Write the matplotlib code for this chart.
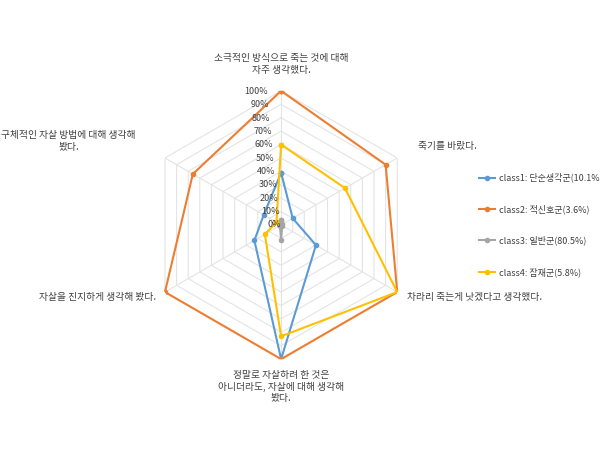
import matplotlib.pyplot as plt
import numpy as np

plt.rcParams['font.family'] = 'Noto Sans CJK KR'

categories = ['소극적인 방식으로 죽는 것에 대해\n자주 생각했다.', '죽기를 바랐다.',
              '차라리 죽는게 낫겠다고 생각했다.', '정말로 자살하려 한 것은\n아니더라도, 자살에 대해 생각해\n봤다.',
              '자살을 진지하게 생각해 봤다.', '구체적인 자살 방법에 대해 생각해\n봤다.']
class1 = [39, 10, 30, 100, 23, 15]
class2 = [100, 90, 100, 100, 100, 76]
class3 = [4, 1, 1, 11, 1, 1]
class4 = [60, 55, 100, 83, 14, 4]
labels = ['class1: 단순생각군(10.1%)', 'class2: 적신호군(3.6%)', 'class3: 일반군(80.5%)', 'class4: 잠재군(5.8%)']
colors = ['#5B9BD5', '#ED7D31', '#A5A5A5', '#FFC000']

fig = plt.figure(figsize=(6, 4.5), dpi=100)
ax = fig.add_axes([0.245, 0.202, 0.447, 0.596], polar=True)
ax.set_theta_offset(np.pi / 2)
ax.set_theta_direction(-1)
ang = np.linspace(0, 2 * np.pi, 6, endpoint=False)
ang_c = np.append(ang, ang[0])
for vals, lab, c in zip([class1, class2, class3, class4], labels, colors):
    v = np.append(vals, vals[0])
    ax.plot(ang_c, v, color=c, lw=1.5, marker='o', ms=3, label=lab)

ax.set_ylim(0, 100)
ax.set_frame_on(False)
ax.xaxis.grid(False)
ax.yaxis.grid(False)
ax.set_xticks(ang)
ax.set_xticklabels([])
ax.set_yticks([])
# hexagonal grid
for r in range(10, 101, 10):
    ax.plot(ang_c, [r] * 7, color='#E4E4E4', lw=0.8, zorder=0)
for a in ang:
    ax.plot([a, a], [0, 100], color='#E4E4E4', lw=0.8, zorder=0)
for r in range(0, 101, 10):
    ax.text(-0.1, r, f'{r}%', fontsize=6.5, ha='right', va='center', color='#404040')

offs = [(112, 'center', 'bottom'), (118, 'left', 'center'), (108, 'left', 'center'),
        (108, 'center', 'top'), (108, 'right', 'center'), (125, 'right', 'center')]
for a, cat, (r, ha, va) in zip(ang, categories, offs):
    ax.text(a, r, cat, fontsize=7, ha=ha, va=va, color='#404040', multialignment='center')

fig.legend(loc='center left', bbox_to_anchor=(0.785, 0.5), frameon=False, fontsize=6.5,
           labelspacing=2.4, handlelength=1.8, handletextpad=0.4, labelcolor='#404040')
fig.savefig('out.png')
